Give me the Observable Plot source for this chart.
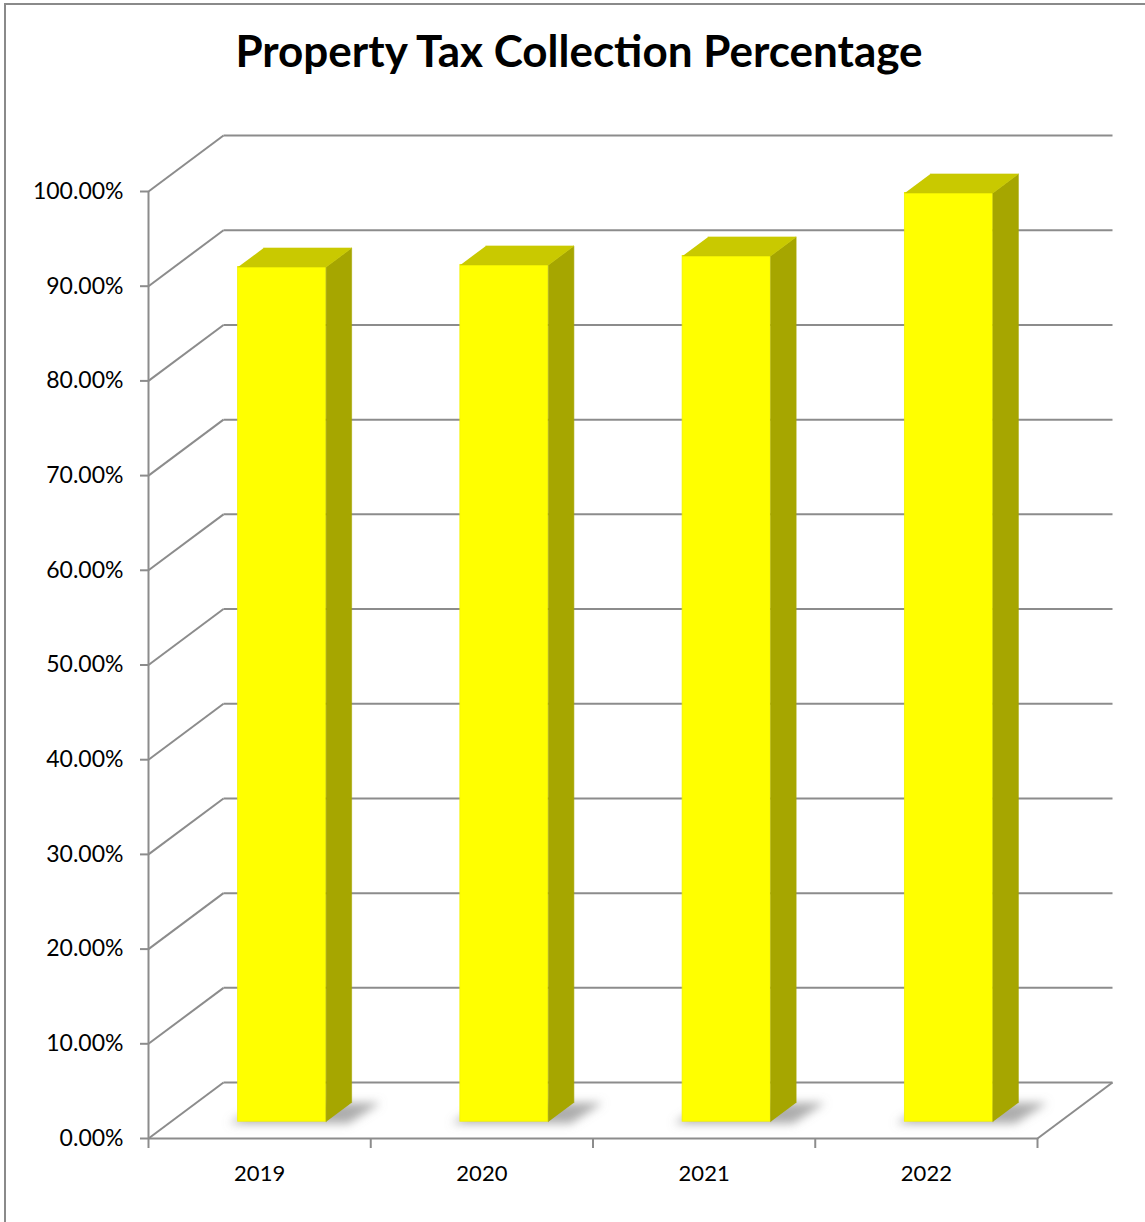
<!DOCTYPE html>
<html>
<head>
<meta charset="utf-8">
<script src="https://cdn.jsdelivr.net/npm/d3@7"></script>
<script src="https://cdn.jsdelivr.net/npm/@observablehq/plot@0.6"></script>
<style>
  html, body { margin: 0; padding: 0; background: #fff; overflow: hidden; }
  #frame { position: absolute; left: 4px; top: 3px; width: 1200px; height: 1300px;
           border-top: 2px solid #8a8a8a; border-left: 2px solid #8a8a8a; }
  #title { position: absolute; left: 0; top: 24px; width: 1158px; text-align: center;
           font-family: Lato, "Open Sans", sans-serif; font-weight: 700; font-size: 44px; color: #000; }
  #chart { position: absolute; left: 0; top: 110px; }
</style>
</head>
<body>
<div id="frame"></div>
<div id="title">Property Tax Collection Percentage</div>
<div id="chart"></div>
<script>
// ---- data ----
const years = ["2019", "2020", "2021", "2022"];
const values = [0.9025, 0.9047, 0.9142, 0.9807];
const yTicks = [0, 0.1, 0.2, 0.3, 0.4, 0.5, 0.6, 0.7, 0.8, 0.9, 1.0];

// ---- 3D geometry (in data units) ----
const DX = 0.3375, DY = 0.0591;     // floor depth offset
const HALF = 0.198;                  // half bar width
const F1 = 0.30, F2 = 0.64;          // bar front/back depth fractions
const N = years.length;

const bars = years.map((yr, i) => {
  const v = values[i];
  const x0 = i + 0.5 - HALF + F1 * DX, x1 = i + 0.5 + HALF + F1 * DX;
  const yb = F1 * DY, yt = v + F1 * DY;
  const bx = (F2 - F1) * DX, by = (F2 - F1) * DY;
  return {yr, v, x0, x1, yb, yt, bx, by};
});

const topFaces = bars.flatMap(b => [
  {id: b.yr, x: b.x0, y: b.yt}, {id: b.yr, x: b.x1, y: b.yt},
  {id: b.yr, x: b.x1 + b.bx, y: b.yt + b.by}, {id: b.yr, x: b.x0 + b.bx, y: b.yt + b.by}
]);
const sideFaces = bars.flatMap(b => [
  {id: b.yr, x: b.x1, y: b.yb}, {id: b.yr, x: b.x1, y: b.yt},
  {id: b.yr, x: b.x1 + b.bx, y: b.yt + b.by}, {id: b.yr, x: b.x1 + b.bx, y: b.yb + b.by}
]);
const SH = 0.1;
const shadows = bars.flatMap(b => [
  {id: b.yr, x: b.x0 - 0.04, y: b.yb - 0.002}, {id: b.yr, x: b.x1 + SH, y: b.yb - 0.002},
  {id: b.yr, x: b.x1 + b.bx + SH * 1.3, y: b.yb + b.by}, {id: b.yr, x: b.x0 + b.bx, y: b.yb + b.by}
]);

const backLines = yTicks.map(t => ({x1: DX, y1: t + DY, x2: N + DX, y2: t + DY}));
const wallLines = yTicks.map(t => ({x1: 0, y1: t, x2: DX, y2: t + DY}));
const floorLines = [
  {x1: 0, y1: 0, x2: N, y2: 0},
  {x1: N, y1: 0, x2: N + DX, y2: DY}
];

const GRID = "#8c8c8c";

const plot = Plot.plot({
  width: 1145,
  height: 1112,
  marginLeft: 148,
  marginRight: 108,
  marginTop: 81,
  marginBottom: 84,
  style: {fontFamily: "Lato, 'Open Sans', sans-serif", fontSize: "22px", color: "#000", background: "transparent"},
  x: {domain: [0, N], axis: null},
  y: {domain: [0, 1], axis: null},
  marks: [
    Plot.link(backLines, {x1: "x1", y1: "y1", x2: "x2", y2: "y2", stroke: GRID, strokeWidth: 2}),
    Plot.link(wallLines, {x1: "x1", y1: "y1", x2: "x2", y2: "y2", stroke: GRID, strokeWidth: 2}),
    Plot.link(floorLines, {x1: "x1", y1: "y1", x2: "x2", y2: "y2", stroke: GRID, strokeWidth: 2}),
    Plot.ruleX([0], {y1: 0, y2: 1, stroke: GRID, strokeWidth: 2}),
    Plot.line(shadows, {x: "x", y: "y", z: "id", fill: "#8a8a8a", fillOpacity: 0.7, stroke: "none"}),
    Plot.rect(bars, {x1: "x0", x2: "x1", y1: "yb", y2: "yt", fill: "#ffff00", stroke: "#f2f200", strokeWidth: 0.8}),
    Plot.line(sideFaces, {x: "x", y: "y", z: "id", fill: "#a6a600", stroke: "#a6a600", strokeWidth: 0.6}),
    Plot.line(topFaces, {x: "x", y: "y", z: "id", fill: "#c9c900", stroke: "#c9c900", strokeWidth: 0.6}),
    Plot.axisY({ticks: yTicks, tickFormat: d3.format(".2%"), tickSize: 8, tickPadding: 17, stroke: GRID, strokeWidth: 2, fontSize: 23}),
    Plot.axisX({ticks: [0, 1, 2, 3, 4], tickFormat: () => "", tickSize: 10, stroke: GRID, strokeWidth: 2}),
    Plot.text(years, {x: (d, i) => i + 0.5, y: 0, dy: 35, text: d => d, fontSize: 22, fill: "#000"})
  ]
});

document.getElementById("chart").appendChild(plot);

// blur the floor shadows
const svg = d3.select(plot);
svg.insert("defs", ":first-child").append("filter").attr("id", "shblur")
  .attr("x", "-50%").attr("y", "-50%").attr("width", "200%").attr("height", "200%")
  .append("feGaussianBlur").attr("stdDeviation", 5);
const lineGroups = plot.querySelectorAll('g[aria-label="line"]');
if (lineGroups.length) lineGroups[0].setAttribute("filter", "url(#shblur)");
</script>
</body>
</html>
